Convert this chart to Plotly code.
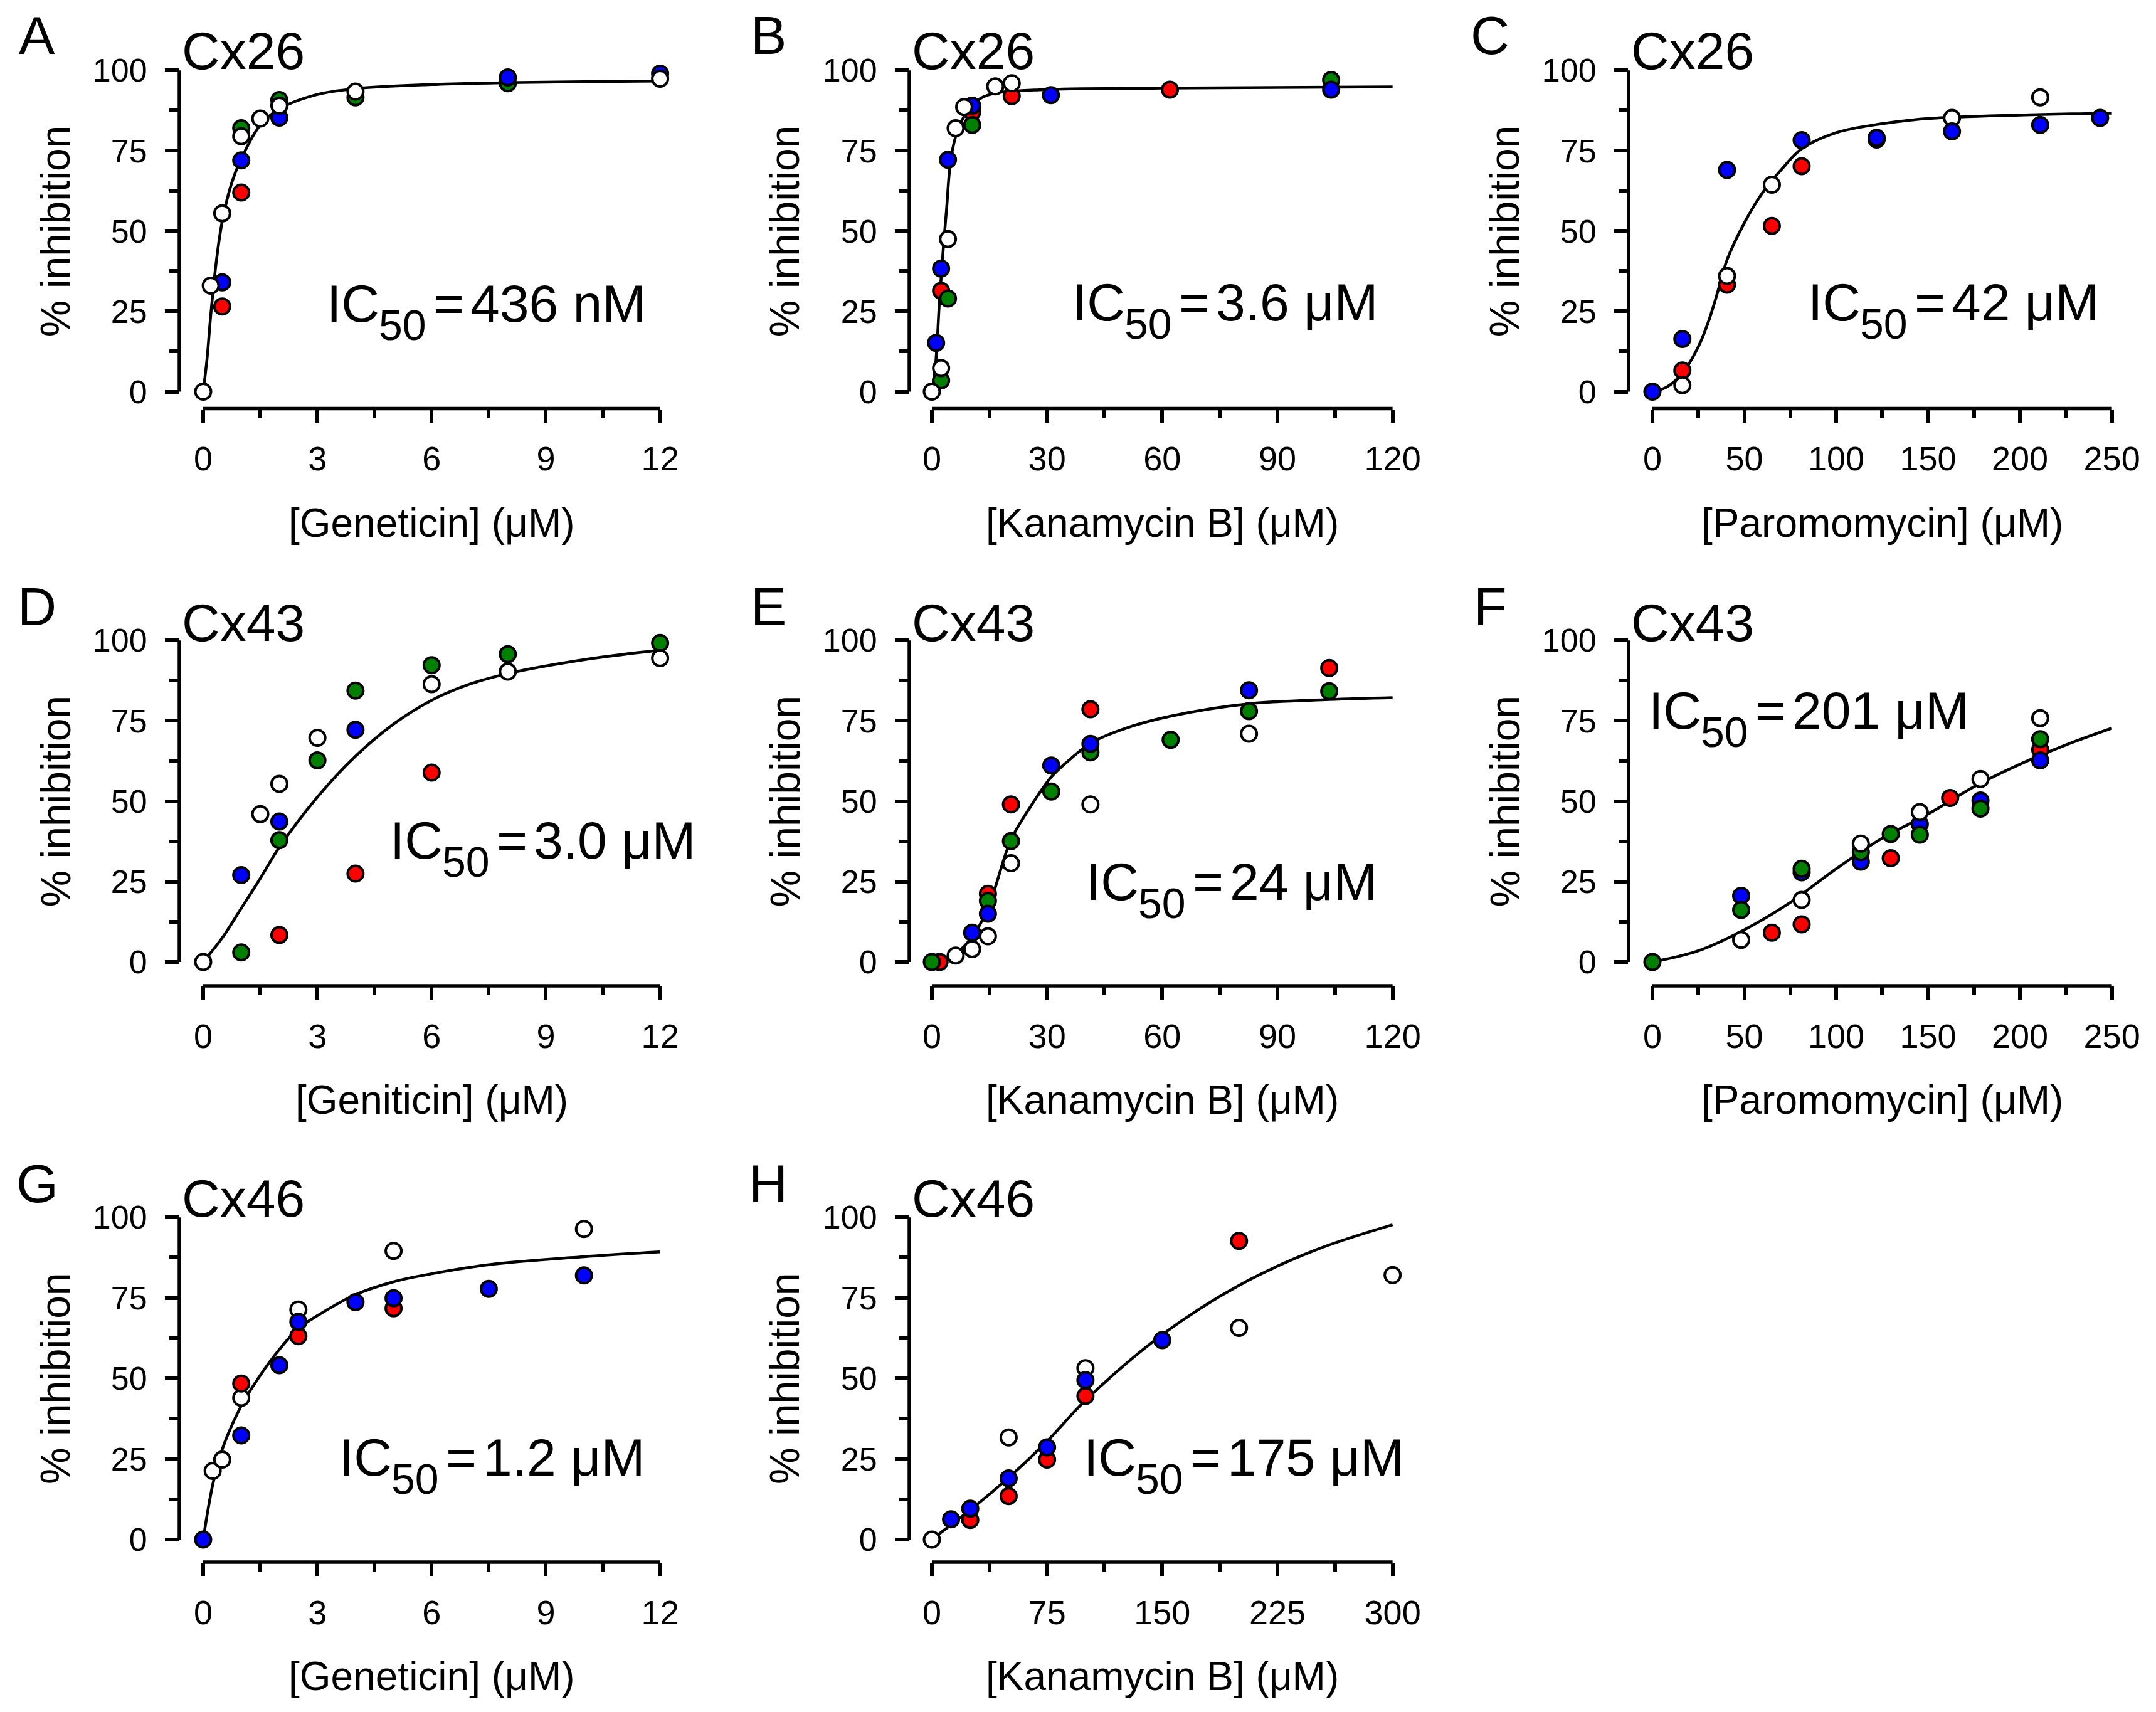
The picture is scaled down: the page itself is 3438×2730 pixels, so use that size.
import plotly.graph_objects as go

W, H = 3438, 2730
FONT = "Liberation Sans, Arial, sans-serif"
RED, GREEN, BLUE, WHITE = "#ff0000", "#008000", "#0000ff", "#ffffff"

# ---------------- data ----------------
# A  Cx26 / Geneticin
A_red_x = [0.5, 1.0]
A_red_y = [26.5, 62]
A_green_x = [1.0, 2.0, 4.0, 8.0]
A_green_y = [82, 90.8, 91.6, 96]
A_blue_x = [0.5, 1.0, 2.0, 8.0, 12.0]
A_blue_y = [34, 72, 85.3, 97.8, 99]
A_white_x = [0, 0.2, 0.5, 1.0, 1.5, 2.0, 4.0, 12.0]
A_white_y = [0, 33, 55.5, 79.5, 85, 89, 93.4, 97.4]
A_fit_x = [0, 0.1, 0.2, 0.35, 0.5, 0.75, 1, 1.5, 2, 3, 4, 6, 8, 10, 12]
A_fit_y = [0, 10, 24, 41, 53, 65, 72.5, 83, 88, 92.5, 94.3, 95.6, 96.2, 96.5, 96.7]

# B  Cx26 / Kanamycin B
B_red_x = [2.4, 10.5, 20.8, 62]
B_red_y = [31.4, 87, 92, 94]
B_green_x = [2.4, 4.2, 10.5, 104]
B_green_y = [3.5, 29, 83, 97]
B_blue_x = [1.1, 2.4, 4.2, 10.5, 31, 104]
B_blue_y = [15.2, 38.3, 72.2, 89, 92.3, 94]
B_white_x = [0, 2.4, 4.2, 6.2, 8.4, 16.5, 20.8]
B_white_y = [0, 7.3, 47.5, 82, 88.6, 95, 96]
B_fit_x = [0, 1, 2, 3, 3.8, 5, 6.8, 9.8, 13, 17, 29, 60, 120]
B_fit_y = [0, 9, 28.7, 45, 56.4, 72.8, 81.6, 88.2, 91.5, 93, 94, 94.5, 94.9]

# C  Cx26 / Paromomycin
C_red_x = [16.3, 40.6, 65, 81.2, 122]
C_red_y = [6.6, 33.3, 51.6, 70.2, 78.5]
C_blue_x = [0, 16.3, 40.6, 81.2, 122, 163, 211, 243.6]
C_blue_y = [0, 16.4, 69, 78.3, 79, 81, 83, 85.2]
C_white_x = [16.3, 40.6, 65, 163, 211]
C_white_y = [2, 36, 64.4, 85.2, 91.6]
C_fit_x = [0, 8, 16.3, 25, 30, 35, 40.6, 50, 60, 70, 81, 100, 125, 150, 200, 250]
C_fit_y = [0, 1.5, 5.7, 14, 21, 30, 41, 52.5, 62, 69, 75.5, 80.6, 83.4, 85, 86.1, 86.7]

# D  Cx43 / Geniticin
D_red_x = [2, 4, 6]
D_red_y = [8.4, 27.5, 58.9]
D_green_x = [1, 2, 3, 4, 6, 8, 12]
D_green_y = [3, 37.9, 62.7, 84.4, 92.3, 95.7, 99.2]
D_blue_x = [1, 2, 4]
D_blue_y = [27, 43.7, 72.2]
D_white_x = [0, 1.5, 2, 3, 6, 8, 12]
D_white_y = [0, 46, 55.4, 69.7, 86.4, 90.3, 94.5]
D_fit_x = [0, 0.5, 1, 1.5, 2, 3, 4, 5, 6, 7, 8, 10, 12]
D_fit_y = [0, 7.5, 16.7, 26, 35.7, 51.3, 64, 74, 81.4, 86.4, 89.7, 94, 97]

# E  Cx43 / Kanamycin B
E_red_x = [2, 14.6, 20.6, 41.3, 103.5]
E_red_y = [0, 21.2, 49, 78.6, 91.4]
E_green_x = [0, 14.6, 20.6, 31.1, 41.3, 62.2, 82.6, 103.5]
E_green_y = [0, 19, 37.6, 53, 65.2, 69.1, 78, 84.2]
E_blue_x = [10.5, 14.6, 31.1, 41.3, 82.6]
E_blue_y = [9.1, 15, 61.1, 67.8, 84.5]
E_white_x = [6.2, 10.5, 14.6, 20.6, 41.3, 82.6]
E_white_y = [2, 4, 8, 30.7, 49, 71]
E_fit_x = [0, 6, 10.5, 14.6, 20.6, 25, 31, 35, 41.3, 50, 62, 82.6, 103.5, 120]
E_fit_y = [0, 2.5, 7.8, 16.7, 38, 47, 57.4, 62, 68, 72.5, 76.4, 80.3, 81.6, 82.2]

# F  Cx43 / Paromomycin
F_red_x = [65, 81.2, 129.7, 162, 211]
F_red_y = [9.1, 11.7, 32.3, 51, 66]
F_green_x = [0, 48.3, 81.2, 113.4, 129.7, 145.5, 178.5, 211]
F_green_y = [0, 16.2, 29, 34.2, 39.8, 39.6, 47.7, 69.3]
F_blue_x = [48.3, 81.2, 113.4, 145.5, 178.5, 211]
F_blue_y = [20.6, 27.9, 31.2, 42.9, 50.2, 62.7]
F_white_x = [48.3, 81.2, 113.4, 145.5, 178.5, 211]
F_white_y = [6.9, 19.3, 36.8, 46.6, 56.9, 75.8]
F_fit_x = [0, 25, 50, 75, 100, 125, 150, 175, 200, 225, 250]
F_fit_y = [0, 3.5, 10, 18.5, 29, 38.5, 46, 54.5, 61.5, 67.5, 72.7]

# G  Cx46 / Geneticin
G_red_x = [1, 2.5, 5]
G_red_y = [48.4, 63.1, 71.8]
G_blue_x = [0, 1, 2, 2.5, 4, 5, 7.5, 10]
G_blue_y = [0, 32.3, 54.1, 67.6, 73.7, 74.9, 77.8, 82]
G_white_x = [0.25, 0.5, 1, 2.5, 5, 10]
G_white_y = [21.3, 24.8, 44, 71.4, 89.6, 96.4]
G_fit_x = [0, 0.25, 0.5, 1, 1.5, 2, 2.5, 3, 4, 5, 6, 7.5, 10, 12]
G_fit_y = [0, 17, 28, 41.5, 51, 59, 65.5, 69.5, 76, 80, 82.5, 85.3, 87.8, 89.3]

# H  Cx46 / Kanamycin B
H_red_x = [25, 50, 75, 100, 200]
H_red_y = [6.1, 13.5, 24.8, 44.6, 92.7]
H_blue_x = [12.5, 25, 50, 75, 100, 150]
H_blue_y = [6.3, 9.6, 19, 28.6, 49.5, 61.9]
H_white_x = [0, 50, 100, 200, 300]
H_white_y = [0, 31.7, 53.2, 65.7, 82.1]
H_fit_x = [0, 12.5, 25, 50, 75, 100, 150, 200, 250, 300]
H_fit_y = [0, 4.6, 9.2, 19.2, 30.5, 43.2, 63.6, 78.9, 89.9, 97.7]

letters = ["A", "B", "C", "D", "E", "F", "G", "H"]
channels = ["Cx26", "Cx26", "Cx26", "Cx43", "Cx43", "Cx43", "Cx46", "Cx46"]
xtitles = ["[Geneticin] (\u03bcM)", "[Kanamycin B] (\u03bcM)", "[Paromomycin] (\u03bcM)",
           "[Geniticin] (\u03bcM)", "[Kanamycin B] (\u03bcM)", "[Paromomycin] (\u03bcM)",
           "[Geneticin] (\u03bcM)", "[Kanamycin B] (\u03bcM)"]
ic50 = ["436 nM", "3.6 \u03bcM", "42 \u03bcM", "3.0 \u03bcM", "24 \u03bcM", "201 \u03bcM",
        "1.2 \u03bcM", "175 \u03bcM"]
xmax = [12, 120, 250, 12, 120, 250, 12, 300]
xdtick = [3, 30, 50, 3, 30, 50, 3, 75]

series = {
    "A": [(A_red_x, A_red_y, RED), (A_green_x, A_green_y, GREEN), (A_blue_x, A_blue_y, BLUE), (A_white_x, A_white_y, WHITE)],
    "B": [(B_red_x, B_red_y, RED), (B_green_x, B_green_y, GREEN), (B_blue_x, B_blue_y, BLUE), (B_white_x, B_white_y, WHITE)],
    "C": [(C_red_x, C_red_y, RED), (C_white_x, C_white_y, WHITE), (C_blue_x, C_blue_y, BLUE)],
    "D": [(D_red_x, D_red_y, RED), (D_green_x, D_green_y, GREEN), (D_blue_x, D_blue_y, BLUE), (D_white_x, D_white_y, WHITE)],
    "E": [(E_white_x, E_white_y, WHITE), (E_red_x, E_red_y, RED), (E_green_x, E_green_y, GREEN), (E_blue_x, E_blue_y, BLUE)],
    "F": [(F_red_x, F_red_y, RED), (F_blue_x, F_blue_y, BLUE), (F_green_x, F_green_y, GREEN), (F_white_x, F_white_y, WHITE)],
    "G": [(G_white_x, G_white_y, WHITE), (G_red_x, G_red_y, RED), (G_blue_x, G_blue_y, BLUE)],
    "H": [(H_white_x, H_white_y, WHITE), (H_red_x, H_red_y, RED), (H_blue_x, H_blue_y, BLUE)],
}
fits = {"A": (A_fit_x, A_fit_y), "B": (B_fit_x, B_fit_y), "C": (C_fit_x, C_fit_y),
        "D": (D_fit_x, D_fit_y), "E": (E_fit_x, E_fit_y), "F": (F_fit_x, F_fit_y),
        "G": (G_fit_x, G_fit_y), "H": (H_fit_x, H_fit_y)}

# ---------------- layout geometry (pixels in the 3438x2730 page) ----------------
# column: y-axis line x, x=0 position, x=max position
cols = [(286, 324, 1053), (1450, 1486, 2221), (2597, 2635, 3368)]
# row: y=100 position, y=0 position, x-axis line y
rows = [(112, 624.5, 651.5), (1021, 1534, 1572), (1941, 2455, 2491)]
letter_x = [59, 1225, 2376]
letter_y = [56, 967, 1887]
cx_y = [81, 993, 1911]
ytitle_x = [88, 1251, 2399]
# left edge of "IC50 = ..." and centre of its capitals
ic_pos = [(519, 484), (1708, 482), (2881, 482), (620, 1340), (1730, 1406),
          (2627, 1133), (539, 2324), (1726, 2324)]
IC_SIZE, SUB_SIZE = 84, 68

fig = go.Figure()
annotations = []
shapes = []
LW = 5.5


def ptext(text, px, py, size, xanchor="center", angle=0):
    return dict(text=text, x=px / W, y=1 - py / H, xref="paper", yref="paper", showarrow=False,
                xanchor=xanchor, yanchor="middle", textangle=angle,
                font=dict(family=FONT, size=size, color="black"))


for i, key in enumerate(letters):
    r, c = divmod(i, 3)
    axl, x0p, xep = cols[c]
    y100, y0p, axy = rows[r]
    n = "" if i == 0 else str(i + 1)
    xa, ya = "x" + n, "y" + n

    xlo = -(x0p - axl) / (xep - x0p) * xmax[i]
    ylo = -(axy - y0p) / (y0p - y100) * 100

    fig.layout["xaxis" + n] = dict(
        domain=[axl / W, xep / W], range=[xlo, xmax[i] * 1.0005], anchor=ya,
        showgrid=False, zeroline=False, showline=False, automargin=False,
        ticks="outside", ticklen=21, tickwidth=LW, tickcolor="black",
        tick0=0, dtick=xdtick[i], ticklabelstandoff=12,
        tickfont=dict(family=FONT, size=54, color="black"),
        minor=dict(ticks="outside", ticklen=14, tickwidth=LW, tickcolor="black",
                   dtick=xdtick[i] / 2, tick0=0),
    )
    fig.layout["yaxis" + n] = dict(
        domain=[1 - axy / H, 1 - y100 / H], range=[ylo, 100.05], anchor=xa,
        showgrid=False, zeroline=False, showline=False, automargin=False,
        ticks="outside", ticklen=22, tickwidth=LW, tickcolor="black",
        tick0=0, dtick=25, ticklabelstandoff=18,
        tickfont=dict(family=FONT, size=52, color="black"),
        minor=dict(ticks="outside", ticklen=15, tickwidth=LW, tickcolor="black",
                   dtick=12.5, tick0=0),
    )
    # detached axis lines (span only 0..max)
    shapes.append(dict(type="line", xref=xa, yref=ya + " domain", x0=0, x1=xmax[i], y0=0, y1=0,
                       line=dict(color="black", width=LW)))
    shapes.append(dict(type="line", xref=xa + " domain", yref=ya, x0=0, x1=0, y0=0, y1=100,
                       line=dict(color="black", width=LW)))

    fx, fy = fits[key]
    fig.add_trace(go.Scatter(x=fx, y=fy, mode="lines", line=dict(color="black", width=4.5, shape="spline"),
                             xaxis=xa, yaxis=ya, showlegend=False, hoverinfo="skip"))
    for sx, sy, col in series[key]:
        fig.add_trace(go.Scatter(x=sx, y=sy, mode="markers", cliponaxis=False,
                                 marker=dict(size=25, color=col, line=dict(color="black", width=4)),
                                 xaxis=xa, yaxis=ya, showlegend=False))

    annotations.append(ptext(key, letter_x[c], letter_y[r], 86))
    annotations.append(ptext(channels[i], axl + 2, cx_y[r], 84, xanchor="left"))
    annotations.append(ptext("% inhibition", ytitle_x[c], (y100 + y0p) / 2, 66, angle=-90))
    annotations.append(ptext(xtitles[i], (x0p + xep) / 2, axy + 182, 64))
    icx, icy = ic_pos[i]
    sub_x = icx + 0.93 * IC_SIZE + 5
    eq_x = sub_x + 1.112 * SUB_SIZE + 11
    val_x = eq_x + 0.584 * IC_SIZE + 10
    annotations.append(ptext("IC", icx, icy, IC_SIZE, xanchor="left"))
    annotations.append(ptext("50", sub_x, icy + 34, SUB_SIZE, xanchor="left"))
    annotations.append(ptext("=", eq_x, icy, IC_SIZE, xanchor="left"))
    annotations.append(ptext(ic50[i], val_x, icy, IC_SIZE, xanchor="left"))

fig.update_layout(autosize=True, margin=dict(l=0, r=0, t=0, b=0, pad=0, autoexpand=False),
                  paper_bgcolor="white", plot_bgcolor="white",
                  shapes=shapes, annotations=annotations, showlegend=False)

fig.write_html("out.html", default_width="100vw", default_height="100vh",
               config={"displayModeBar": False},
               post_script="document.body.style.margin='0';document.body.style.overflow='hidden';")
